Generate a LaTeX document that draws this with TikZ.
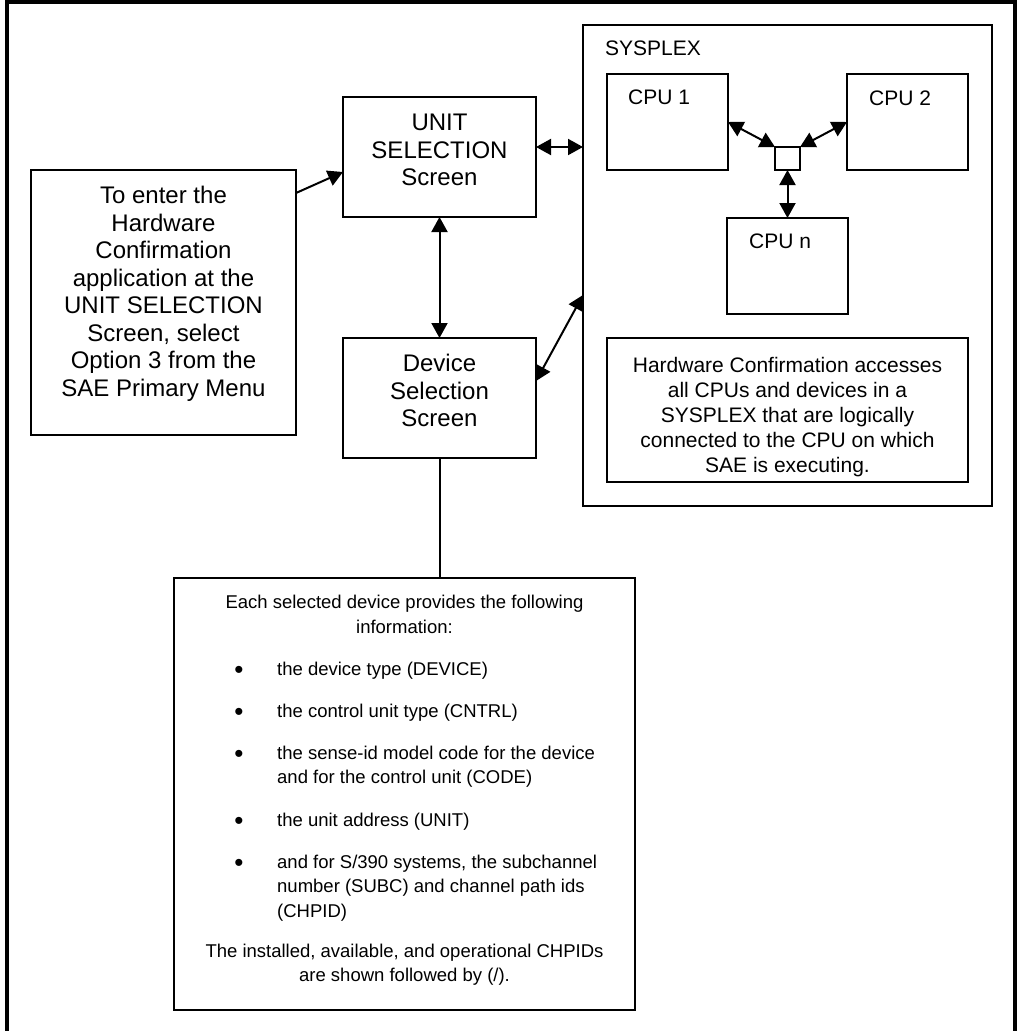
\documentclass[tikz,border=0pt]{standalone}
\usepackage{fontspec}
\setmainfont{Liberation Sans}
\usetikzlibrary{arrows.meta}
\begin{document}
\begin{tikzpicture}[x=1pt,y=-1pt,
  box/.style={draw,line width=2.3pt,inner sep=0pt,outer sep=0pt},
  tip/.tip={Triangle[length=15pt,width=16pt]},
  twoway/.style={line width=2pt,tip-tip},
  oneway/.style={line width=2pt,-tip},
  plainline/.style={line width=2pt},
  bigtxt/.style={font=\fontsize{24}{27.55}\selectfont,inner sep=0pt,anchor=base},
  midtxt/.style={font=\fontsize{21}{25}\selectfont,inner sep=0pt,anchor=base},
  smalltxt/.style={font=\fontsize{18.5}{24.5}\selectfont,inner sep=0pt,anchor=base},
  bullettxt/.style={font=\fontsize{26}{26}\selectfont,inner sep=0pt,anchor=base,yshift=-3.5pt},
  lefttxt/.style={anchor=base west}
]
\useasboundingbox (0,0) rectangle (1018,1031);
% outer frame
\draw[line width=4pt] (7,1031) -- (7,2) -- (1015,2) -- (1015,1031);

% boxes
\node[box,minimum width=265pt,minimum height=265pt] (enter) at (163.5,302.5) {};
\node[box,minimum width=193pt,minimum height=120pt] (unit) at (439.5,157) {};
\node[box,minimum width=193pt,minimum height=120pt] (device) at (439.5,398) {};
\node[box,minimum width=409pt,minimum height=481pt] (sysplex) at (787.5,265.5) {};
\node[box,minimum width=121pt,minimum height=96pt] (cpu1) at (667.5,122) {};
\node[box,minimum width=121pt,minimum height=96pt] (cpu2) at (907.5,122) {};
\node[box,minimum width=121pt,minimum height=96pt] (cpun) at (787.5,266) {};
\node[box,minimum width=25pt,minimum height=23pt] (hub) at (787.5,158.5) {};
\node[box,minimum width=361pt,minimum height=144pt] (note) at (787.5,410) {};
\node[box,minimum width=461pt,minimum height=432pt] (info) at (404.5,794) {};

% left box text
\foreach \t [count=\i from 0] in {To enter the,Hardware,Confirmation,application at the,UNIT SELECTION,{Screen, select},Option 3 from the,SAE Primary Menu}
  \node[bigtxt] (enterl\i) at (163.5,203.5+27.55*\i) {\t};

% unit selection text
\foreach \t [count=\i from 0] in {UNIT,SELECTION,Screen}
  \node[bigtxt] (unitl\i) at (439.5,130.7+27.6*\i) {\t};

% device selection text
\foreach \t [count=\i from 0] in {Device,Selection,Screen}
  \node[bigtxt] (devl\i) at (439.5,371.7+27.6*\i) {\t};

% sysplex labels
\node[midtxt,lefttxt] (syslabel) at (605,55) {SYSPLEX};
\node[midtxt,lefttxt] (cpu1label) at (628,104) {CPU 1};
\node[midtxt,lefttxt] (cpu2label) at (869,105) {CPU 2};
\node[midtxt,lefttxt] (cpunlabel) at (749,248) {CPU n};

% note text
\foreach \t [count=\i from 0] in {Hardware Confirmation accesses,all CPUs and devices in a,SYSPLEX that are logically,connected to the CPU on which,SAE is executing.}
  \node[midtxt] (notel\i) at (787.5,372+25*\i) {\t};

% info box text
\node[smalltxt] (infoh1) at (404.5,608.5) {Each selected device provides the following};
\node[smalltxt] (infoh2) at (404.5,633) {information:};
\node[bullettxt] (b1) at (239,675) {•};
\node[smalltxt,lefttxt] (i1) at (277,675) {the device type (DEVICE)};
\node[bullettxt] (b2) at (239,717) {•};
\node[smalltxt,lefttxt] (i2) at (277,717) {the control unit type (CNTRL)};
\node[bullettxt] (b3) at (239,759) {•};
\node[smalltxt,lefttxt] (i3a) at (277,759) {the sense-id model code for the device};
\node[smalltxt,lefttxt] (i3b) at (277,783.5) {and for the control unit (CODE)};
\node[bullettxt] (b4) at (239,826) {•};
\node[smalltxt,lefttxt] (i4) at (277,826) {the unit address (UNIT)};
\node[bullettxt] (b5) at (239,868) {•};
\node[smalltxt,lefttxt] (i5a) at (277,868) {and for S/390 systems, the subchannel};
\node[smalltxt,lefttxt] (i5b) at (277,892.5) {number (SUBC) and channel path ids};
\node[smalltxt,lefttxt] (i5c) at (277,917) {(CHPID)};
\node[smalltxt] (infof1) at (404.5,957) {The installed, available, and operational CHPIDs};
\node[smalltxt] (infof2) at (404.5,981.5) {are shown followed by (/).};

% connectors
\draw[oneway] ([yshift=-23pt]enter.north east) -- ([yshift=-15pt]unit.west);
\draw[twoway] ([yshift=10pt]unit.east) -- ([yshift=10pt]unit.east -| sysplex.west);
\draw[twoway] (unit.south) -- (device.north);
\draw[twoway] ([yshift=17pt]device.east) -- ([yshift=-29.5pt]sysplex.west);
\draw[plainline] (device.south) -- (device.south |- info.north);
\draw[twoway] (cpu1.east) -- (hub.north west);
\draw[twoway] (cpu2.west) -- (hub.north east);
\draw[twoway] (hub.south) -- (cpun.north);
\end{tikzpicture}
\end{document}
